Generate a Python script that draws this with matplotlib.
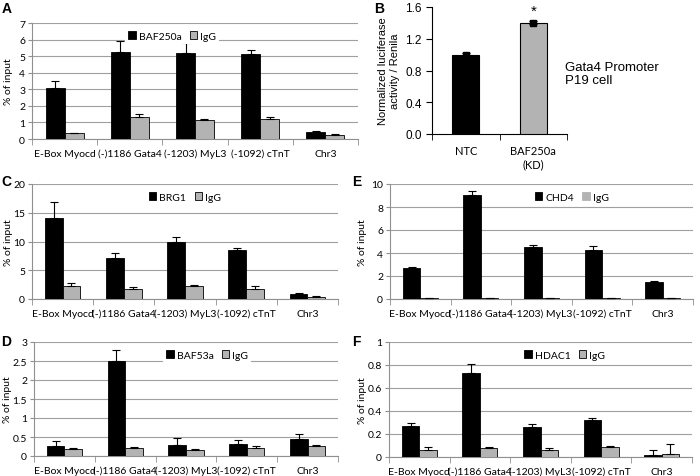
import numpy as np
import matplotlib
matplotlib.use('Agg')
import matplotlib.pyplot as plt
from matplotlib.patches import Patch

plt.rcParams['font.family'] = ['Lato', 'DejaVu Sans']

# ข้อมูล ChIP (% of input)
sites = ['E-Box Myocd', '(-)1186 Gata4', '(-1203) MyL3', '(-1092) cTnT', 'Chr3']

baf250a = [3.05, 5.25, 5.2, 5.1, 0.45]
baf250a_err = [0.45, 0.65, 0.6, 0.3, 0.05]
igg_a = [0.35, 1.3, 1.12, 1.2, 0.27]
igg_a_err = [0.03, 0.2, 0.1, 0.1, 0.02]

brg1 = [14.1, 7.2, 10.0, 8.5, 0.9]
brg1_err = [2.8, 0.8, 0.7, 0.3, 0.1]
igg_c = [2.3, 1.7, 2.2, 1.8, 0.4]
igg_c_err = [0.5, 0.4, 0.2, 0.5, 0.05]

baf53a = [0.27, 2.5, 0.28, 0.31, 0.45]
baf53a_err = [0.12, 0.3, 0.2, 0.12, 0.13]
igg_d = [0.18, 0.21, 0.17, 0.21, 0.27]
igg_d_err = [0.02, 0.04, 0.02, 0.05, 0.03]

chd4 = [2.7, 9.05, 4.5, 4.3, 1.45]
chd4_err = [0.1, 0.35, 0.2, 0.3, 0.15]
igg_e = [0.05, 0.05, 0.06, 0.05, 0.06]
igg_e_err = [0.01, 0.01, 0.01, 0.01, 0.01]

hdac1 = [0.27, 0.73, 0.265, 0.325, 0.02]
hdac1_err = [0.025, 0.08, 0.02, 0.01, 0.045]
igg_f = [0.065, 0.075, 0.065, 0.085, 0.03]
igg_f_err = [0.02, 0.015, 0.01, 0.01, 0.085]

# ข้อมูล luciferase (panel B)
luc_groups = ['NTC', 'BAF250a\n(KD)']
luc_vals = [1.0, 1.4]
luc_err = [0.02, 0.02]

W, H = 700, 477
fig = plt.figure(figsize=(W / 100, H / 100), dpi=100)


def px_axes(l, t, r, b):
    return fig.add_axes([l / W, 1 - b / H, (r - l) / W, (b - t) / H])


def chip_panel(box, sig, sig_err, igg, igg_err, name, ymax, step, letter, lpos, legx,
               ylab_x, igg_legend_edge='black'):
    ax = px_axes(*box)
    x = np.arange(len(sites))
    w = 0.29
    ax.bar(x - w / 2, sig, w, color='black', edgecolor='black', lw=0.6, zorder=3)
    ax.bar(x + w / 2, igg, w, color='#b3b3b3', edgecolor='black', lw=0.6, zorder=3)
    ax.errorbar(x - w / 2, sig, yerr=[np.zeros(5), sig_err], fmt='none',
                ecolor='black', elinewidth=0.8, capsize=3, capthick=0.8, zorder=4)
    ax.errorbar(x + w / 2, igg, yerr=[np.zeros(5), igg_err], fmt='none',
                ecolor='black', elinewidth=0.8, capsize=3, capthick=0.8, zorder=4)
    ax.set_xlim(-0.5, len(sites) - 0.5)
    ax.set_ylim(0, ymax)
    ticks = np.arange(0, ymax + step / 2, step)
    ax.set_yticks(ticks)
    ax.set_yticklabels([f'{v:g}' for v in ticks])
    ax.yaxis.grid(True, color='#a0a0a0', lw=0.8, zorder=0)
    ax.set_xticks(x)
    ax.set_xticklabels(sites, fontsize=7.5)
    ax.set_xticks(np.arange(-0.5, len(sites), 1), minor=True)
    ax.tick_params(axis='x', which='major', length=0, pad=7)
    ax.tick_params(axis='x', which='minor', length=4, color='#909090')
    ax.tick_params(axis='y', length=3, color='#909090', labelsize=7.5, pad=2)
    for s in ['top', 'right']:
        ax.spines[s].set_visible(False)
    ax.spines['left'].set_color('#909090')
    ax.spines['bottom'].set_color('#909090')
    ax.set_ylabel('% of input', fontsize=7.5)
    ax.yaxis.set_label_coords((ylab_x - box[0]) / (box[2] - box[0]), 0.5)
    handles = [Patch(facecolor='black', edgecolor='black', lw=0.6),
               Patch(facecolor='#b3b3b3', edgecolor=igg_legend_edge, lw=0.6)]
    leg = ax.legend(handles, [name, 'IgG'], loc='upper center', bbox_to_anchor=(legx, 1.0),
                    ncol=2, frameon=True, fontsize=7.5, handlelength=0.7, handleheight=0.7,
                    handletextpad=0.3, columnspacing=0.8, borderpad=0.3)
    leg.get_frame().set_facecolor('white')
    leg.get_frame().set_edgecolor('none')
    leg.get_frame().set_alpha(1)
    fig.text(lpos[0] / W, 1 - lpos[1] / H, letter, fontsize=10, fontweight='bold',
             family=['Liberation Sans'], va='top', ha='left')
    return ax


chip_panel((32, 24, 358, 140), baf250a, baf250a_err, igg_a, igg_a_err,
           'BAF250a', 7, 1, 'A', (2, 2), 0.43, 13)
chip_panel((32, 185, 338, 300), brg1, brg1_err, igg_c, igg_c_err,
           'BRG1', 20, 5, 'C', (1, 175), 0.5, 13)
chip_panel((34, 343, 338, 457), baf53a, baf53a_err, igg_d, igg_d_err,
           'BAF53a', 3, 0.5, 'D', (1, 335), 0.57, 12)
chip_panel((390, 185, 693, 300), chd4, chd4_err, igg_e, igg_e_err,
           'CHD4', 10, 2, 'E', (352, 175), 0.6, 367, igg_legend_edge='#b3b3b3')
chip_panel((389, 343, 692, 458), hdac1, hdac1_err, igg_f, igg_f_err,
           'HDAC1', 1, 0.2, 'F', (352, 335), 0.58, 367)

# Panel B: luciferase
axb = px_axes(432, 8, 567, 135)
xb = np.arange(len(luc_groups))
axb.bar(xb, luc_vals, 0.4, color=['black', '#b3b3b3'], edgecolor='black', lw=0.8, zorder=3)
axb.errorbar(xb, luc_vals, yerr=luc_err, fmt='s', ms=5, color='black',
             ecolor='black', elinewidth=1, capsize=3, zorder=4)
axb.text(xb[1], luc_vals[1] + 0.07, '*', ha='center', va='bottom', fontsize=11,
         family=['Liberation Sans'])
axb.set_xlim(-0.5, 1.5)
axb.set_ylim(0, 1.6)
bticks = np.arange(0, 1.61, 0.4)
axb.set_yticks(bticks)
axb.set_yticklabels([f'{v:.1f}' for v in bticks], family=['Liberation Sans'], fontsize=8.5)
axb.set_xticks(xb)
axb.set_xticklabels(luc_groups, fontsize=8)
axb.set_xticks([-0.5, 0.5, 1.5], minor=True)
axb.tick_params(axis='x', which='major', length=0, pad=8)
axb.tick_params(axis='x', which='minor', length=4)
axb.tick_params(axis='y', length=4)
for s in ['top', 'right']:
    axb.spines[s].set_visible(False)
axb.set_ylabel('Normalized luciferase\nactivity / Renila', fontsize=8,
               family=['Liberation Sans'], labelpad=4)
fig.text(565 / W, 1 - 62 / H, 'Gata4 Promoter\nP19 cell', fontsize=9.5,
         family=['Liberation Sans'], va='top', ha='left', linespacing=1.1)
fig.text(374 / W, 1 - 2 / H, 'B', fontsize=10, fontweight='bold',
         family=['Liberation Sans'], va='top', ha='left')

fig.savefig('out.png', dpi=100)
